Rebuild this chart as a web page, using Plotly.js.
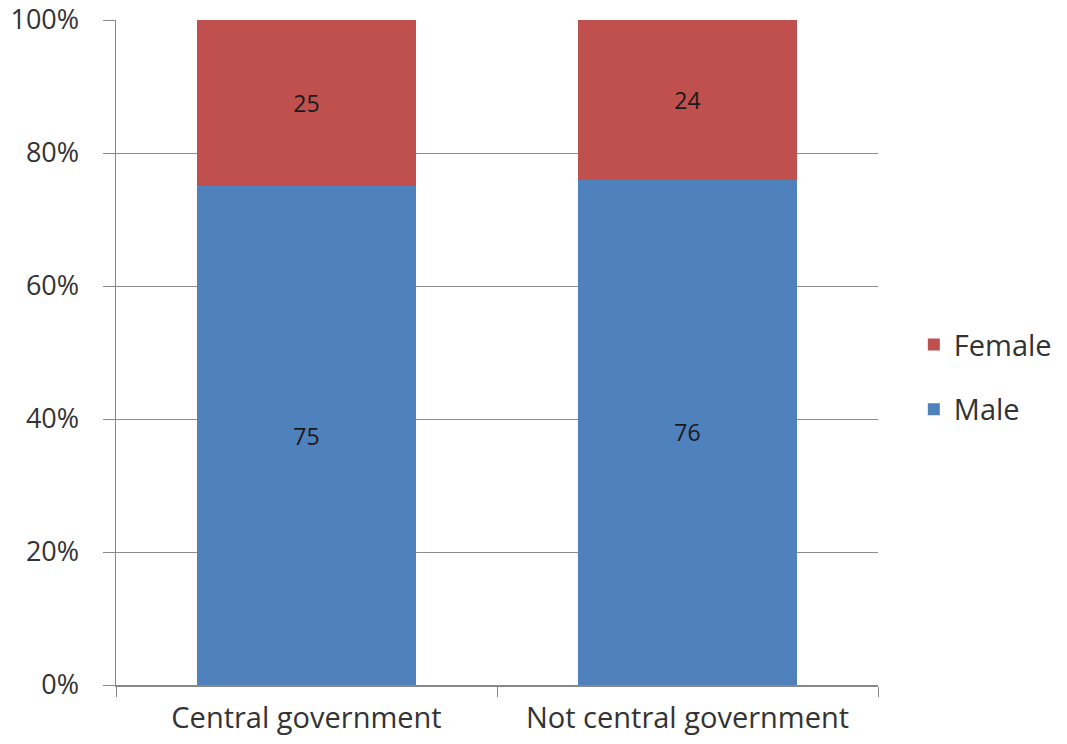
<!DOCTYPE html>
<html>
<head>
<meta charset="utf-8">
<script src="https://cdn.plot.ly/plotly-3.0.1.min.js"></script>
<style>html,body{margin:0;padding:0;background:#fff;}#chart{width:1067px;height:744px;}</style>
</head>
<body>
<div id="chart"></div>
<script>
const categories = ["Central government", "Not central government"];
const maleValues = [75, 76];
const femaleValues = [25, 24];
const yTickVals = [0, 20, 40, 60, 80, 100];
const yTickText = ["0%", "20%", "40%", "60%", "80%", "100%"];

const fontFam = "Open Sans, Noto Sans, sans-serif";
const traces = [
  {
    type: "bar", name: "Male", x: categories, y: maleValues,
    text: maleValues.map(String), textposition: "inside", insidetextanchor: "middle",
    textfont: {family: fontFam, size: 23, color: "#1a1a1a"},
    marker: {color: "#4F81BD"}, legendgroup: "m", legendrank: 2, hoverinfo: "none"
  },
  {
    type: "bar", name: "Female", x: categories, y: femaleValues,
    text: femaleValues.map(String), textposition: "inside", insidetextanchor: "middle",
    textfont: {family: fontFam, size: 23, color: "#1a1a1a"},
    marker: {color: "#C0504D"}, legendgroup: "f", legendrank: 1, hoverinfo: "none"
  }
];

const layout = {
  width: 1067, height: 744,
  margin: {l: 116, r: 189, t: 20, b: 59, autoexpand: false},
  paper_bgcolor: "#fff", plot_bgcolor: "#fff",
  barmode: "stack", bargap: 0.427,
  font: {family: fontFam, color: "#333"},
  xaxis: {
    type: "category", tickson: "boundaries", ticks: "outside", ticklen: 10,
    tickcolor: "#888", showgrid: false, showline: true, linecolor: "#888", linewidth: 1.5,
    tickfont: {size: 29, color: "#333"}, range: [-0.5, 1.5], fixedrange: true,
    ticklabelstandoff: 7, tickangle: 0
  },
  yaxis: {
    range: [0, 100], tickvals: yTickVals, ticktext: yTickText,
    ticks: "outside", ticklen: 12, tickcolor: "#888",
    showgrid: true, gridcolor: "#8c8c8c", gridwidth: 1,
    showline: true, linecolor: "#888", linewidth: 1.5, zeroline: false,
    tickfont: {size: 27, color: "#333"}, ticklabelstandoff: 18, fixedrange: true
  },
  legend: {
    x: 1.047, y: 0.463, xanchor: "left", yanchor: "middle",
    traceorder: "grouped", tracegroupgap: 24,
    font: {size: 29, color: "#333"}, bgcolor: "rgba(0,0,0,0)"
  },
  showlegend: true
};

Plotly.newPlot("chart", traces, layout, {displayModeBar: false, staticPlot: true});
</script>
</body>
</html>
